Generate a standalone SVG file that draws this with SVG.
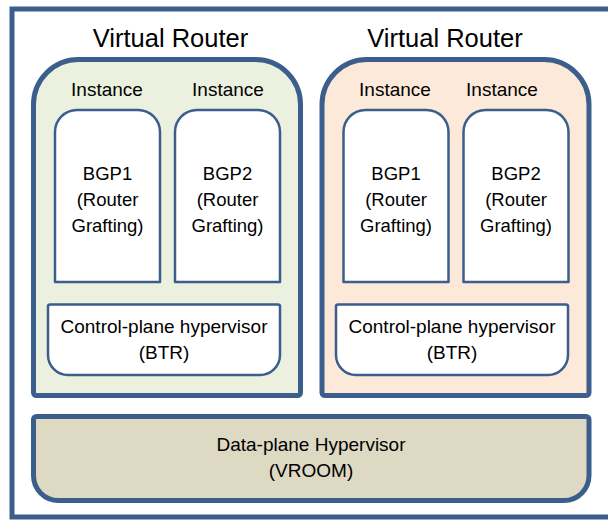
<svg xmlns="http://www.w3.org/2000/svg" width="608" height="521" viewBox="0 0 608 521">
  <style>
    .frame { fill: #ffffff; stroke: #3b5e8c; stroke-width: 5; }
    .thick { stroke: #3b5e8c; stroke-width: 5; stroke-linejoin: round; }
    .thin { fill: #ffffff; stroke: #3b5e8c; stroke-width: 2.5; stroke-linejoin: round; }
    .green { fill: #ebf1de; }
    .peach { fill: #fde9d9; }
    .tan { fill: #ddd9c3; }
    text { font-family: "Liberation Sans", Arial, sans-serif; fill: #000000; text-anchor: middle; }
    .title { font-size: 25.5px; }
    .lbl { font-size: 19px; }
    .bgp { font-size: 18.5px; }
  </style>
  <g id="outer-frame">
    <rect class="frame" x="12" y="9" width="600" height="508"/>
  </g>

  <g id="vr-left">
    <text class="title" x="170.5" y="47">Virtual Router</text>
    <path class="thick green" d="M33.5,392.5 V104.5 A45,45 0 0 1 78.5,59.5 H255.5 A45,45 0 0 1 300.5,104.5 V392.5 A3,3 0 0 1 297.5,395.5 H36.5 A3,3 0 0 1 33.5,392.5 Z"/>
  </g>
  <g id="vr-right">
    <text class="title" x="445" y="47">Virtual Router</text>
    <path class="thick peach" d="M322,392.5 V104.5 A45,45 0 0 1 367,59.5 H544 A45,45 0 0 1 589,104.5 V392.5 A3,3 0 0 1 586,395.5 H325 A3,3 0 0 1 322,392.5 Z"/>
  </g>

  <g id="bgp1-left">
    <text class="lbl" x="107" y="96">Instance</text>
    <path class="thin" d="M55,282 V132 A22,22 0 0 1 77,110 H138 A22,22 0 0 1 160,132 V282 Z"/>
    <text class="bgp" x="107.5" y="180">BGP1</text>
    <text class="bgp" x="107.5" y="206">(Router</text>
    <text class="bgp" x="107.5" y="232">Grafting)</text>
  </g>
  <g id="bgp2-left">
    <text class="lbl" x="228" y="96">Instance</text>
    <path class="thin" d="M175,282 V132 A22,22 0 0 1 197,110 H258 A22,22 0 0 1 280,132 V282 Z"/>
    <text class="bgp" x="227.5" y="180">BGP2</text>
    <text class="bgp" x="227.5" y="206">(Router</text>
    <text class="bgp" x="227.5" y="232">Grafting)</text>
  </g>
  <g id="bgp1-right">
    <text class="lbl" x="395" y="96">Instance</text>
    <path class="thin" d="M343.5,282 V132 A22,22 0 0 1 365.5,110 H426.5 A22,22 0 0 1 448.5,132 V282 Z"/>
    <text class="bgp" x="396" y="180">BGP1</text>
    <text class="bgp" x="396" y="206">(Router</text>
    <text class="bgp" x="396" y="232">Grafting)</text>
  </g>
  <g id="bgp2-right">
    <text class="lbl" x="502" y="96">Instance</text>
    <path class="thin" d="M463.5,282 V132 A22,22 0 0 1 485.5,110 H546.5 A22,22 0 0 1 568.5,132 V282 Z"/>
    <text class="bgp" x="516" y="180">BGP2</text>
    <text class="bgp" x="516" y="206">(Router</text>
    <text class="bgp" x="516" y="232">Grafting)</text>
  </g>

  <g id="cp-left">
    <path class="thin" d="M48,306.5 A2,2 0 0 1 50,304.5 H278 A2,2 0 0 1 280,306.5 V355 A20,20 0 0 1 260,375 H68 A20,20 0 0 1 48,355 Z"/>
    <text class="lbl" x="164" y="333">Control-plane hypervisor</text>
    <text class="lbl" x="164" y="359">(BTR)</text>
  </g>
  <g id="cp-right">
    <path class="thin" d="M336,306.5 A2,2 0 0 1 338,304.5 H566 A2,2 0 0 1 568,306.5 V355 A20,20 0 0 1 548,375 H356 A20,20 0 0 1 336,355 Z"/>
    <text class="lbl" x="452" y="333">Control-plane hypervisor</text>
    <text class="lbl" x="452" y="359">(BTR)</text>
  </g>

  <g id="data-plane">
    <path class="thick tan" d="M33.5,419.5 A3,3 0 0 1 36.5,416.5 H586 A3,3 0 0 1 589,419.5 V475.5 A25,25 0 0 1 564,500.5 H58.5 A25,25 0 0 1 33.5,475.5 Z"/>
    <text class="lbl" x="311" y="451">Data-plane Hypervisor</text>
    <text class="lbl" x="311" y="477">(VROOM)</text>
  </g>

  <g id="connectors"/>
</svg>
